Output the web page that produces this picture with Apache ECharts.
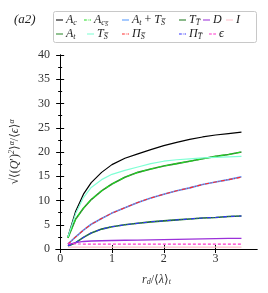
<!DOCTYPE html>
<html>
<head>
<meta charset="utf-8">
<script src="https://cdn.jsdelivr.net/npm/echarts@6/dist/echarts.min.js"></script>
<style>html,body{margin:0;padding:0;background:#fff}#c{width:268px;height:293px}</style>
</head>
<body>
<div id="c"></div>
<script>
// ---- data ----
const xs       = [0.15, 0.3, 0.45, 0.6, 0.8, 1.0, 1.25, 1.5, 1.75, 2.0, 2.25, 2.5, 2.75, 3.0, 3.25, 3.5];
const A_c      = [2.5, 7.8, 11.3, 13.7, 15.8, 17.4, 18.7, 19.6, 20.5, 21.3, 22.0, 22.6, 23.1, 23.5, 23.8, 24.1];
const A_cS     = [2.3, 6.2, 8.4, 10.2, 12.0, 13.4, 14.8, 15.8, 16.5, 17.1, 17.6, 18.1, 18.6, 19.1, 19.5, 20.0];
const A_t      = [2.3, 6.2, 8.4, 10.2, 12.0, 13.4, 14.8, 15.8, 16.5, 17.1, 17.6, 18.1, 18.6, 19.1, 19.5, 20.0];
const T_S      = [2.5, 7.3, 10.6, 12.7, 14.3, 15.4, 16.2, 16.9, 17.6, 18.1, 18.4, 18.6, 18.8, 18.9, 19.0, 19.1];
const AtTS     = [1.0, 2.5, 3.9, 5.1, 6.3, 7.4, 8.5, 9.6, 10.5, 11.3, 12.0, 12.6, 13.3, 13.8, 14.3, 14.9];
const Pi_S     = [1.0, 2.5, 3.9, 5.1, 6.3, 7.4, 8.5, 9.6, 10.5, 11.3, 12.0, 12.6, 13.3, 13.8, 14.3, 14.8];
const T_T      = [0.6, 1.3, 2.4, 3.3, 4.1, 4.6, 5.0, 5.3, 5.6, 5.8, 6.0, 6.2, 6.4, 6.5, 6.7, 6.8];
const Pi_T     = [0.6, 1.3, 2.4, 3.3, 4.1, 4.6, 5.0, 5.3, 5.6, 5.8, 6.0, 6.2, 6.4, 6.5, 6.7, 6.8];
const D        = [0.9, 1.3, 1.55, 1.65, 1.7, 1.75, 1.8, 1.85, 1.9, 1.95, 2.0, 2.05, 2.1, 2.15, 2.18, 2.2];
const I_       = [0.4, 0.4, 0.4, 0.4, 0.4, 0.4, 0.4, 0.4, 0.4, 0.4, 0.4, 0.4, 0.4, 0.4, 0.4, 0.4];
const eps      = [1.2, 1.05, 1.0, 1.0, 1.0, 1.0, 1.0, 1.0, 1.0, 1.0, 1.0, 1.0, 1.0, 1.0, 1.0, 1.0];
const yTicks   = [0, 5, 10, 15, 20, 25, 30, 35, 40];
const xTicks   = [0, 1, 2, 3];

const SERIF = '"Liberation Serif","DejaVu Serif",serif';
const DASHDOT = [4, 1.5, 1, 1.5];
const ICON_SOLID = 'path://M0,0H10V1.5H0Z';
const ICON_DASHDOT = 'path://M0,0H4V1.5H0Z M5.5,0H6.5V1.5H5.5Z M8,0H10V1.5H8Z';
const ICON_DASH = 'path://M0,0H4V1.5H0Z M6,0H10V1.5H6Z';

const seriesDefs = [
  {name: 'Ac',   data: A_c,  color: '#000000', type: 'solid', w: 1.2, icon: ICON_SOLID},
  {name: 'At',   data: A_t,  color: '#2e8b2e', type: 'solid', w: 1.6, icon: ICON_SOLID},
  {name: 'AcS',  data: A_cS, color: '#22dd22', type: DASHDOT, w: 1.1, icon: ICON_DASHDOT},
  {name: 'TS',   data: T_S,  color: '#7fffd4', type: 'solid', w: 1.2, icon: ICON_SOLID},
  {name: 'AtTS', data: AtTS, color: '#5599ff', type: 'solid', w: 1.6, icon: ICON_SOLID},
  {name: 'PiS',  data: Pi_S, color: '#ff2a2a', type: DASHDOT, w: 1.1, icon: ICON_DASHDOT},
  {name: 'TT',   data: T_T,  color: '#1f7a1f', type: 'solid', w: 1.6, icon: ICON_SOLID},
  {name: 'PiT',  data: Pi_T, color: '#3333ff', type: DASHDOT, w: 1.1, icon: ICON_DASHDOT},
  {name: 'D',    data: D,    color: '#9b30d9', type: 'solid', w: 1.3, icon: ICON_SOLID},
  {name: 'I',    data: I_,   color: '#ffc0cb', type: 'solid', w: 1.3, icon: ICON_SOLID},
  {name: 'eps',  data: eps,  color: '#ff33cc', type: [3, 2], w: 1.1, icon: ICON_DASH}
];

const labels = {
  Ac:   '{i|A}{s|c}',
  AcS:  '{i|A}{s|c}{ss|S̅}',
  AtTS: '{i|A}{s|t}{t| + }{i|T}{s|S̅}',
  TT:   '{i|T}{s|T̅}',
  D:    '{i|D}',
  I:    '{i|I}',
  At:   '{i|A}{s|t}',
  TS:   '{i|T}{s|S̅}',
  PiS:  '{i|Π}{s|S̅}',
  PiT:  '{i|Π}{s|T̅}',
  eps:  '{i|ϵ}'
};

const legendPos = {
  Ac: [56, 14], AcS: [84, 14], AtTS: [122, 14], TT: [179, 14], D: [203, 14], I: [226, 14],
  At: [56, 28], TS: [87, 28], PiS: [122, 28], PiT: [179, 28], eps: [209, 28]
};

const rich = {
  i: {fontFamily: SERIF, fontStyle: 'italic', fontSize: 12, color: '#222'},
  t: {fontFamily: SERIF, fontSize: 12, color: '#222'},
  s: {fontFamily: SERIF, fontStyle: 'italic', fontSize: 8, color: '#222', padding: [5, 0, 0, 0]},
  ss: {fontFamily: SERIF, fontStyle: 'italic', fontSize: 6, color: '#222', padding: [8, 0, 0, 0]}
};

const iconOf = {};
seriesDefs.forEach(s => { iconOf[s.name] = s.icon; });

const legends = Object.keys(legendPos).map(k => ({
  data: [{name: k, icon: iconOf[k]}],
  left: legendPos[k][0],
  top: legendPos[k][1],
  padding: 0,
  itemWidth: 7,
  itemHeight: 1.5,
  itemGap: 2,
  formatter: n => labels[n],
  textStyle: {rich: rich, padding: [0, 0, 0, -2]}
}));

const chart = echarts.init(document.getElementById('c'), null, {renderer: 'canvas'});
const axisLine = {show: true, lineStyle: {color: '#000', width: 1}};
chart.setOption({
  animation: false,
  backgroundColor: '#fff',
  title: {text: '(a2)', left: 9, top: 8, textStyle: {fontFamily: SERIF, fontStyle: 'italic', fontWeight: 'normal', fontSize: 13, color: '#222'}},
  graphic: [{type: 'rect', z: -10, shape: {x: 53.5, y: 11.5, width: 203, height: 31, r: 2}, style: {fill: '#fff', stroke: '#c8c8c8', lineWidth: 1}}],
  legend: legends,
  grid: {left: 51, right: 11, top: 55, bottom: 44},
  xAxis: [
    {type: 'value', min: -0.08, max: 3.8, position: 'bottom',
     axisLine: axisLine, splitLine: {show: false},
     axisTick: {inside: true, length: 4, customValues: xTicks, lineStyle: {color: '#000'}},
     axisLabel: {customValues: xTicks, margin: 4, fontFamily: SERIF, fontSize: 12, color: '#333'},
     name: '{i|r}{s|d}{t|/⟨}{i|λ}{t|⟩}{s|t}', nameLocation: 'middle', nameGap: 24,
     nameTextStyle: {rich: {
       i: {fontFamily: SERIF, fontStyle: 'italic', fontSize: 12, color: '#333'},
       t: {fontFamily: SERIF, fontSize: 12, color: '#333'},
       s: {fontFamily: SERIF, fontStyle: 'italic', fontSize: 8, color: '#333', padding: [5, 0, 0, 0]}}}},
    {type: 'value', min: -0.08, max: 3.8, position: 'top',
     axisLine: axisLine, splitLine: {show: false},
     axisTick: {inside: true, length: 4, customValues: xTicks, lineStyle: {color: '#000'}},
     axisLabel: {show: false}}
  ],
  yAxis: [
    {type: 'value', min: 0, max: 40, interval: 5, position: 'left',
     axisLine: axisLine, splitLine: {show: false},
     axisTick: {inside: true, length: 4, lineStyle: {color: '#000'}},
     minorTick: {show: true, splitNumber: 2, length: 2, lineStyle: {color: '#000'}},
     axisLabel: {margin: 6, fontFamily: SERIF, fontSize: 12, color: '#333'},
     name: '{t|√⟨(}{i|Q}{t|′)}{p|2}{t|⟩}{p|α}{t|/⟨}{i|ϵ}{t|⟩}{p|α}', nameLocation: 'middle', nameGap: 34,
     nameTextStyle: {rich: {
       i: {fontFamily: SERIF, fontStyle: 'italic', fontSize: 12, color: '#333'},
       t: {fontFamily: SERIF, fontSize: 12, color: '#333'},
       p: {fontFamily: SERIF, fontStyle: 'italic', fontSize: 8, color: '#333', padding: [0, 0, 6, 0]}}}},
    {type: 'value', min: 0, max: 40, interval: 5, position: 'right',
     axisLine: axisLine, splitLine: {show: false},
     axisTick: {inside: true, length: 4, lineStyle: {color: '#000'}},
     minorTick: {show: true, splitNumber: 2, length: 2, lineStyle: {color: '#000'}},
     axisLabel: {show: false}}
  ],
  series: seriesDefs.map(s => ({
    name: s.name,
    type: 'line',
    symbol: 'none',
    xAxisIndex: 0, yAxisIndex: 0,
    data: xs.map((x, i) => [x, s.data[i]]),
    color: s.color,
    lineStyle: {color: s.color, width: s.w, type: s.type}
  }))
});
</script>
</body>
</html>
